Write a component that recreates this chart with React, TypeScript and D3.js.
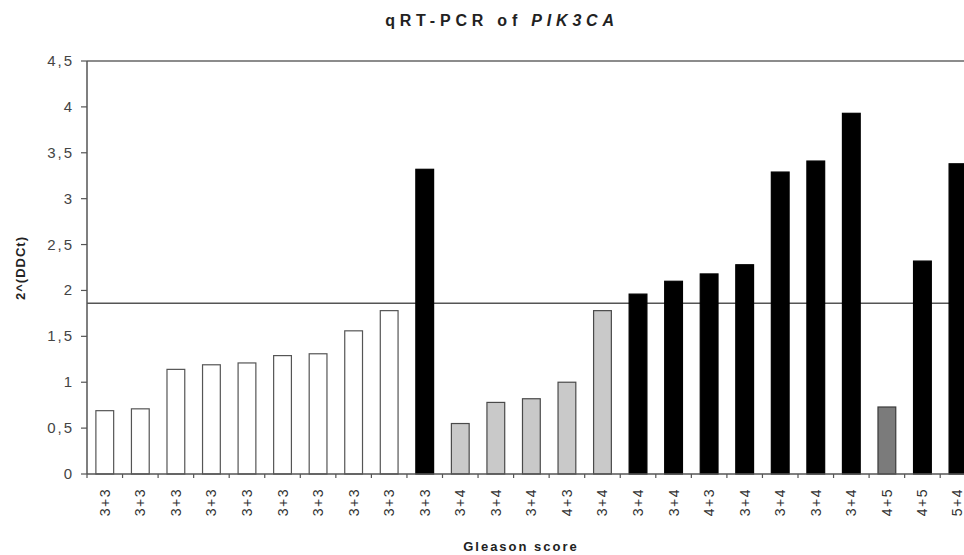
import React from "react";
import * as d3 from "d3";

const categories = [
  "3+3","3+3","3+3","3+3","3+3","3+3","3+3","3+3","3+3","3+3",
  "3+4","3+4","3+4","4+3","3+4",
  "3+4","3+4","4+3","3+4","3+4","3+4","3+4",
  "4+5","4+5","5+4",
];
const values = [
  0.69, 0.71, 1.14, 1.19, 1.21, 1.29, 1.31, 1.56, 1.78, 3.32,
  0.55, 0.78, 0.82, 1.0, 1.78,
  1.96, 2.1, 2.18, 2.28, 3.29, 3.41, 3.93,
  0.73, 2.32, 3.38,
];
// group of each bar: w = white, g = light gray, b = black, d = dark gray
const groups = [
  "w","w","w","w","w","w","w","w","w","b",
  "g","g","g","g","g",
  "b","b","b","b","b","b","b",
  "d","b","b",
];
const yTicks = [0, 0.5, 1, 1.5, 2, 2.5, 3, 3.5, 4, 4.5];
const threshold = 1.86;
const title = "qRT-PCR of ";
const titleGene = "PIK3CA";
const yTitle = "2^(DDCt)";
const xTitle = "Gleason score";

const fills: Record<string, string> = { w: "#ffffff", g: "#c9c9c9", b: "#000000", d: "#7b7b7b" };
const strokes: Record<string, string> = { w: "#555555", g: "#4a4a4a", b: "#000000", d: "#3a3a3a" };

export default function App() {
  const W = 964, H = 555;
  const left = 87, top = 61, bottom = 474;
  const band = 35.55;
  const x = d3.scaleBand<number>()
    .domain(d3.range(categories.length))
    .range([left, left + band * categories.length])
    .paddingInner(0.5).paddingOuter(0.25);
  const y = d3.scaleLinear().domain([0, 4.5]).range([bottom, top]);
  const font = "Arial, 'Liberation Sans', sans-serif";
  return (
    <svg width={W} height={H} style={{ position: "absolute", left: 0, top: 0, background: "#fff" }}>
      <rect x={0} y={0} width={W} height={H} fill="#fff" />
      <text x={502} y={26} textAnchor="middle" fontFamily={font} fontWeight="bold" fontSize={16} letterSpacing={4.8} fill="#222">
        {title}<tspan fontStyle="italic">{titleGene}</tspan>
      </text>
      {/* top border at 4.5 */}
      <line x1={left} x2={W} y1={y(4.5)} y2={y(4.5)} stroke="#666" strokeWidth={1.5} />
      {/* threshold line */}
      <line x1={left} x2={W} y1={y(threshold)} y2={y(threshold)} stroke="#555" strokeWidth={1.5} />
      {values.map((v, i) => (
        <rect key={i} x={x(i)!} width={x.bandwidth()} y={y(v)} height={y(0) - y(v)}
          fill={fills[groups[i]]} stroke={strokes[groups[i]]} strokeWidth={1.2} />
      ))}
      {/* y axis */}
      <line x1={left} x2={left} y1={top} y2={bottom} stroke="#555" strokeWidth={1.5} />
      {yTicks.map((t) => (
        <g key={t}>
          <line x1={left - 6} x2={left} y1={y(t)} y2={y(t)} stroke="#555" strokeWidth={1.2} />
          <text x={74} y={y(t) + 5} textAnchor="end" fontFamily={font} fontSize={15} letterSpacing={2} fill="#444">
            {String(t).replace(".", ",")}
          </text>
        </g>
      ))}
      {/* x axis */}
      <line x1={left} x2={W} y1={bottom} y2={bottom} stroke="#555" strokeWidth={1.5} />
      {d3.range(categories.length + 1).map((i) => (
        <line key={i} x1={left + i * band} x2={left + i * band} y1={bottom} y2={bottom + 4} stroke="#555" strokeWidth={1.2} />
      ))}
      {categories.map((c, i) => {
        const cx = Math.min(x(i)! + x.bandwidth() / 2 + 5, W - 2);
        return (
          <text key={i} transform={`translate(${cx},${488}) rotate(-90)`} textAnchor="end"
            fontFamily={font} fontSize={14} letterSpacing={1.5} fill="#333">
            {c}
          </text>
        );
      })}
      <text x={521} y={551} textAnchor="middle" fontFamily={font} fontWeight="bold" fontSize={13} letterSpacing={2} fill="#222">
        {xTitle}
      </text>
      <text transform={`translate(25,268) rotate(-90)`} textAnchor="middle" fontFamily={font} fontWeight="bold" fontSize={13} letterSpacing={1} fill="#222">
        {yTitle}
      </text>
    </svg>
  );
}
